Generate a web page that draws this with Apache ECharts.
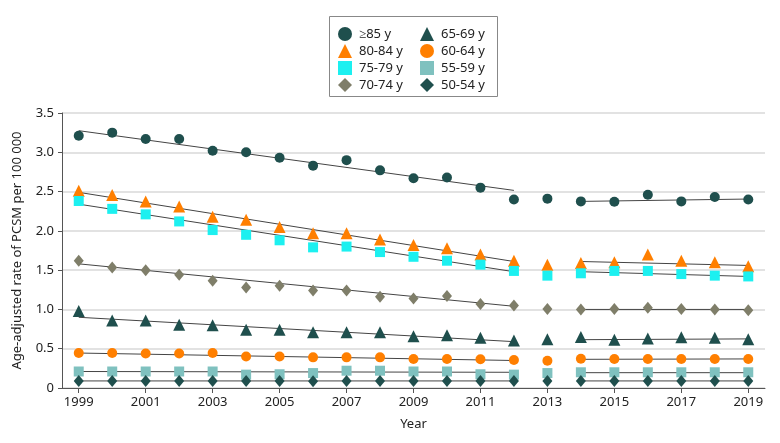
<!DOCTYPE html>
<html>
<head>
<meta charset="utf-8">
<script src="https://cdn.jsdelivr.net/npm/echarts@6/dist/echarts.min.js"></script>
<style>html,body{margin:0;padding:0;background:#fff;}#c{width:780px;height:443px;}</style>
</head>
<body>
<div id="c"></div>
<script>
var years = ['1999','2000','2001','2002','2003','2004','2005','2006','2007','2008','2009','2010','2011','2012','2013','2014','2015','2016','2017','2018','2019'];
var yTicks = [0, 0.5, 1.0, 1.5, 2.0, 2.5, 3.0, 3.5];
var names = ['≥85 y','80-84 y','75-79 y','70-74 y','65-69 y','60-64 y','55-59 y','50-54 y'];

var s85 = [3.21,3.25,3.17,3.17,3.02,3.00,2.93,2.83,2.90,2.77,2.67,2.68,2.55,2.40,2.41,2.375,2.37,2.46,2.375,2.43,2.40];
var s80 = [2.51,2.455,2.375,2.31,2.18,2.14,2.05,1.97,1.97,1.89,1.82,1.78,1.70,1.62,1.57,1.59,1.60,1.70,1.62,1.60,1.55];
var s75 = [2.38,2.28,2.21,2.12,2.01,1.95,1.88,1.79,1.80,1.73,1.67,1.62,1.57,1.49,1.43,1.46,1.49,1.49,1.45,1.43,1.42];
var s70 = [1.62,1.535,1.50,1.44,1.365,1.28,1.30,1.24,1.24,1.16,1.14,1.17,1.07,1.05,1.005,1.00,1.005,1.02,1.005,1.00,0.99];
var s65 = [0.98,0.86,0.86,0.805,0.80,0.74,0.74,0.71,0.71,0.71,0.66,0.67,0.64,0.605,0.62,0.65,0.615,0.63,0.645,0.64,0.62];
var s60 = [0.445,0.445,0.44,0.44,0.445,0.40,0.40,0.39,0.39,0.39,0.37,0.37,0.365,0.356,0.347,0.373,0.37,0.37,0.37,0.37,0.37];
var s55 = [0.21,0.21,0.21,0.21,0.21,0.17,0.175,0.19,0.22,0.22,0.21,0.21,0.175,0.17,0.19,0.20,0.20,0.20,0.20,0.20,0.20];
var s50 = [0.09,0.09,0.09,0.09,0.09,0.09,0.09,0.085,0.09,0.09,0.09,0.09,0.09,0.09,0.09,0.09,0.09,0.09,0.09,0.09,0.09];

// joinpoint trend segments: values at [1999, 2012] and [2014, 2019]
var trendYears = ['1999','2012','2014','2019'];
var t85 = [3.275, 2.515, 2.375, 2.405];
var t80 = [2.49, 1.61, 1.61, 1.56];
var t75 = [2.34, 1.48, 1.48, 1.42];
var t70 = [1.58, 1.04, 1.00, 1.00];
var t65 = [0.90, 0.59, 0.615, 0.625];
var t60 = [0.445, 0.35, 0.365, 0.37];
var t55 = [0.21, 0.20, 0.195, 0.195];
var t50 = [0.09, 0.09, 0.09, 0.09];

var values = [s85, s80, s75, s70, s65, s60, s55, s50];
var trends = [t85, t80, t75, t70, t65, t60, t55, t50];
var colors = ['#1f4f4d','#ff7f00','#1cf0f0','#7f7e69','#1f4f4d','#ff7f00','#7fc1bf','#1f4f4d'];
var symbols = ['circle','triangle','rect','diamond','triangle','circle','rect','diamond'];
var sizes = [10, 12, 10, [10,12], 12, 10, 10, [10,12]];

var series = [];
trends.forEach(function(t, i){
  series.push({
    name: names[i] + ' trend', type: 'line', z: 1, silent: true,
    symbol: 'none', connectNulls: false,
    lineStyle: {color: '#444', width: 1},
    data: [[trendYears[0], t[0]], [trendYears[1], t[1]], ['2013', '-'], [trendYears[2], t[2]], [trendYears[3], t[3]]]
  });
});
values.forEach(function(v, i){
  series.push({
    name: names[i], type: 'scatter', z: 3,
    symbol: symbols[i], symbolSize: sizes[i],
    itemStyle: {color: colors[i], opacity: 1},
    data: v
  });
});

var font = 'Noto Sans';
var chart = echarts.init(document.getElementById('c'));
chart.setOption({
  animation: false,
  textStyle: {fontFamily: font},
  grid: {left: 62, right: 15, top: 113, bottom: 55},
  legend: [{
    data: names.slice(0,4), orient: 'vertical', left: 333, top: 22,
    itemGap: 3, itemWidth: 14, itemHeight: 14,
    textStyle: {fontFamily: font, fontSize: 13, color: '#222', padding: [0,0,0,2]}
  },{
    data: names.slice(4), orient: 'vertical', left: 415, top: 22,
    itemGap: 3, itemWidth: 14, itemHeight: 14,
    textStyle: {fontFamily: font, fontSize: 13, color: '#222', padding: [0,0,0,2]}
  }],
  graphic: [{
    type: 'rect', left: 327, top: 14, silent: true,
    shape: {width: 168, height: 80},
    style: {fill: 'none', stroke: '#888', lineWidth: 1}
  }],
  xAxis: {
    type: 'category', data: years, boundaryGap: true,
    name: 'Year', nameLocation: 'middle', nameGap: 30,
    nameTextStyle: {fontFamily: font, fontSize: 13, color: '#222'},
    axisLine: {lineStyle: {color: '#555', width: 1}},
    axisTick: {show: true, alignWithLabel: true, interval: 1, length: 5, lineStyle: {color: '#555'}},
    axisLabel: {interval: 1, fontFamily: font, fontSize: 13, color: '#222', margin: 8},
    splitLine: {show: false}
  },
  yAxis: {
    type: 'value', min: 0, max: 3.5, interval: 0.5,
    name: 'Age-adjusted rate of PCSM per 100 000', nameLocation: 'middle', nameGap: 38,
    nameTextStyle: {fontFamily: font, fontSize: 13, color: '#222'},
    axisLine: {show: true, lineStyle: {color: '#555', width: 1}},
    axisTick: {show: true, length: 4, lineStyle: {color: '#555'}},
    axisLabel: {fontFamily: font, fontSize: 13, color: '#222', margin: 8,
      formatter: function(v){ return yTicks.indexOf(v) >= 0 ? (v === 0 ? '0' : v.toFixed(1)) : ''; }},
    splitLine: {show: true, lineStyle: {color: '#d9d9d9', width: 1.5}}
  },
  series: series
});
</script>
</body>
</html>
